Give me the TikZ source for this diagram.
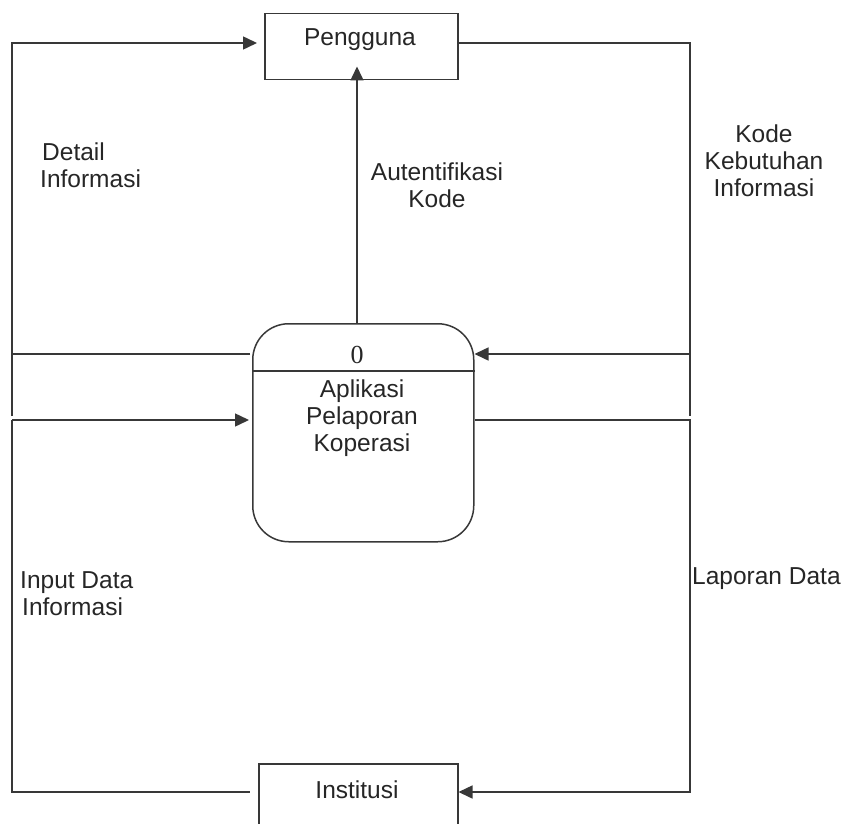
\documentclass[tikz,border=0pt]{standalone}
\usepackage{fontspec}
\setmainfont{Liberation Sans}
\newfontfamily\serifzero{Liberation Serif}
\usetikzlibrary{arrows.meta}
\begin{document}
\begin{tikzpicture}[x=1pt,y=-1pt,
  line/.style={draw=black!78, line width=1.5pt},
  arr/.style={line, -{Triangle[length=14pt,width=13pt]}},
  ent/.style={draw=black!78, line width=1.5pt, inner sep=0pt},
  lbl/.style={font=\fontsize{24.5}{27}\selectfont, inner sep=0pt, text=black!85}]
\useasboundingbox (0,0) rectangle (851,824);
\clip (0,0) rectangle (851,824);
% entities and process
\node[ent, anchor=north west, minimum width=193pt, minimum height=66pt] (peng) at (264,13) {};
\node[ent, anchor=north west, minimum width=199pt, minimum height=90pt] (inst) at (258,763) {};
\node[ent, anchor=north west, minimum width=221pt, minimum height=218pt, rounded corners=36pt] (proc) at (252,323) {};
\draw[line] (proc.west |- 0,371) -- (proc.east |- 0,371);
% texts
\node[lbl] (pengt) at (360,40) {Pengguna};
\node[lbl] (instt) at (357,790) {Institusi};
\node[lbl, font=\fontsize{26}{28}\serifzero] (pzero) at (357,355) {0};
\node[lbl, align=center] (pname) at (362,418) {Aplikasi\\Pelaporan\\Koperasi};
\node[lbl, align=left, anchor=west] (l1) at (40,165) {\hspace*{2pt}Detail\\Informasi};
\node[lbl, align=center] (l2) at (437,185) {Autentifikasi\\Kode};
\node[lbl, align=center] (l3) at (764,161) {Kode\\Kebutuhan\\Informasi};
\node[lbl, align=left, anchor=west] (l4) at (20,594) {Input Data\\\hspace*{2pt}Informasi};
\node[lbl, anchor=west] (l5) at (692,579) {Laporan Data};
% corner coordinates
\coordinate (tl) at (12,43);
\coordinate (ml) at (12,354);
\coordinate (el) at (12,416);
\coordinate (sl) at (12,420);
\coordinate (bl) at (12,792);
\coordinate (tr) at (690,43);
\coordinate (mr) at (690,354);
\coordinate (er) at (690,416);
\coordinate (sr) at (690,420);
\coordinate (br) at (690,792);
% Detail Informasi
\draw[line] ([xshift=-2pt]proc.west |- ml) -- (ml);
\draw[arr, shorten >=7pt] (el) -- (tl) -- (peng.west |- tl);
% Kode Kebutuhan Informasi
\draw[line] (peng.east |- tr) -- (tr) -- (er);
\draw[arr] (mr) -- (proc.east |- mr);
% Autentifikasi Kode
\draw[arr, shorten >=-14pt] (proc.north -| 357,0) -- (peng.south -| 357,0);
% Input Data Informasi
\draw[arr, shorten >=3pt] (sl) -- (proc.west |- sl);
\draw[line] (sl) -- (bl) -- ([xshift=-8pt]inst.west |- bl);
% Laporan Data
\draw[arr] (proc.east |- sr) -- (sr) -- (br) -- (inst.east |- br);
\end{tikzpicture}
\end{document}
